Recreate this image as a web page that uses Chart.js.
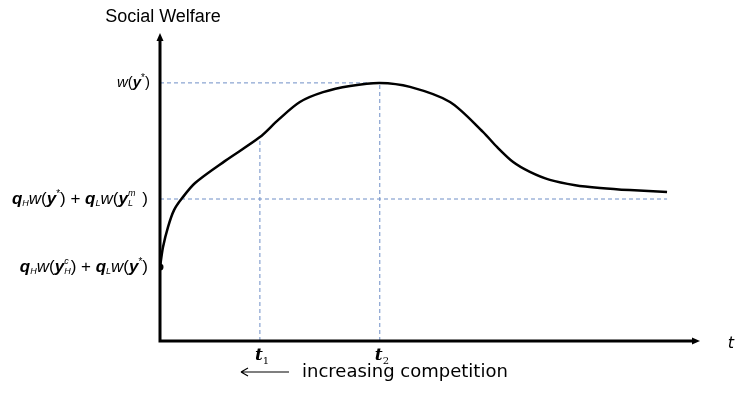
<!DOCTYPE html>
<html>
<head>
<meta charset="utf-8">
<script src="https://cdn.jsdelivr.net/npm/chart.js@4/dist/chart.umd.min.js"></script>
<style>
  html, body { margin: 0; padding: 0; background: #fff; }
  #wrap { width: 735px; height: 411px; position: relative; }
</style>
</head>
<body>
<div id="wrap"><canvas id="c"></canvas></div>
<script>
// ---- data (axis units: x 0..10, y 0..10) ----
const curveX = [0, 0.056, 0.148, 0.26, 0.41, 0.65, 1.20, 1.85, 2.19, 2.59, 3.02, 3.52, 4.07, 4.63, 5.37, 5.98, 6.24, 6.54, 6.85, 7.22, 7.69, 8.15, 8.70, 9.39];
const curveY = [2.40, 3.05, 3.70, 4.25, 4.64, 5.13, 5.84, 6.62, 7.18, 7.76, 8.08, 8.28, 8.38, 8.25, 7.76, 6.79, 6.30, 5.81, 5.49, 5.23, 5.06, 4.97, 4.90, 4.84];
const tPositions = [1.85, 4.07];        // t1, t2
const tSubscripts = ['1', '2'];
const tHeights = [6.62, 8.38];          // curve value at t1, t2
const levelValues = [2.40, 4.61, 8.38]; // y-levels of labelled welfare values
const levelLineEnds = [null, 9.39, 4.07]; // x where the dashed level lines end
const xMax = 10, yMax = 10;

const dashColor = '#6f8ec6';

function pts(xs, ys) { return xs.map((x, i) => ({ x: x, y: ys[i] })); }

const dashed = (data) => ({
  data: data, showLine: true, borderColor: dashColor, borderWidth: 1,
  borderDash: [4, 3], pointRadius: 0, fill: false, order: 2
});

const datasets = [
  dashed([{ x: 0, y: levelValues[2] }, { x: levelLineEnds[2], y: levelValues[2] }]),
  dashed([{ x: 0, y: levelValues[1] }, { x: levelLineEnds[1], y: levelValues[1] }]),
  dashed([{ x: tPositions[0], y: 0 }, { x: tPositions[0], y: tHeights[0] }]),
  dashed([{ x: tPositions[1], y: 0 }, { x: tPositions[1], y: tHeights[1] }]),
  {
    data: pts(curveX, curveY), showLine: true, borderColor: '#000', borderWidth: 2.5,
    tension: 0.3, fill: false, order: 1,
    pointRadius: curveX.map((_, i) => i === 0 ? 3.5 : 0),
    pointBackgroundColor: '#000', pointBorderColor: '#000', pointBorderWidth: 0
  }
];

// rich text helper: segments {t, font, dy, stack}; stack = draw without advancing
function richWidth(ctx, segs) {
  let w = 0;
  segs.forEach(s => { ctx.font = s.font; if (!s.stack) w += ctx.measureText(s.t).width; });
  return w;
}
function drawRich(ctx, segs, xRight, y) {
  let x = xRight - richWidth(ctx, segs);
  ctx.textAlign = 'left';
  ctx.textBaseline = 'middle';
  segs.forEach(s => {
    ctx.font = s.font;
    ctx.fillText(s.t, x, y + (s.dy || 0));
    if (!s.stack) x += ctx.measureText(s.t).width;
  });
}
const FF = '"Liberation Sans", Arial, sans-serif';
const BI = 'italic bold 17px ' + FF;
const I = 'italic 17px ' + FF;
const N = '17px ' + FF;
const SUB = 'italic 9px ' + FF;
const SUP = '10px ' + FF;

const levelLabels = [
  [ {t:'q',font:BI},{t:'H',font:SUB,dy:4},{t:'w',font:I},{t:'(',font:N},{t:'y',font:BI},
    {t:'c',font:SUB,dy:-6,stack:true},{t:'H',font:SUB,dy:4},{t:') + ',font:N},{t:'q',font:BI},{t:'L',font:SUB,dy:4},
    {t:'w',font:I},{t:'(',font:N},{t:'y',font:BI},{t:'*',font:SUP,dy:-5},{t:')',font:N} ],
  [ {t:'q',font:BI},{t:'H',font:SUB,dy:4},{t:'w',font:I},{t:'(',font:N},{t:'y',font:BI},
    {t:'*',font:SUP,dy:-5},{t:') + ',font:N},{t:'q',font:BI},{t:'L',font:SUB,dy:4},
    {t:'w',font:I},{t:'(',font:N},{t:'y',font:BI},{t:'m',font:SUB,dy:-6,stack:true},{t:'L',font:SUB,dy:4},{t:'  )',font:N} ],
  [ {t:'w',font:'italic 15px ' + FF},{t:'(',font:'15px ' + FF},{t:'y',font:'italic bold 15px ' + FF},
    {t:'*',font:SUP,dy:-5},{t:')',font:'15px ' + FF} ]
];
const labelRight = [-12, -12, -10];

const decor = {
  id: 'decor',
  afterDatasetsDraw(chart) {
    const ctx = chart.ctx;
    const xs = chart.scales.x, ys = chart.scales.y;
    const x0 = xs.getPixelForValue(0), y0 = ys.getPixelForValue(0);
    const xEnd = xs.getPixelForValue(xMax), yTop = ys.getPixelForValue(yMax);
    ctx.save();
    ctx.strokeStyle = '#000'; ctx.fillStyle = '#000';
    ctx.lineWidth = 3;
    ctx.beginPath();
    ctx.moveTo(x0, y0 + 1.5); ctx.lineTo(x0, yTop + 6);
    ctx.moveTo(x0 - 1.5, y0); ctx.lineTo(xEnd - 6, y0);
    ctx.stroke();
    // arrowheads
    ctx.beginPath();
    ctx.moveTo(x0, yTop); ctx.lineTo(x0 - 3.5, yTop + 8); ctx.lineTo(x0 + 3.5, yTop + 8); ctx.closePath(); ctx.fill();
    ctx.beginPath();
    ctx.moveTo(xEnd, y0); ctx.lineTo(xEnd - 8, y0 - 3.5); ctx.lineTo(xEnd - 8, y0 + 3.5); ctx.closePath(); ctx.fill();

    // y-level labels
    levelLabels.forEach((segs, i) => {
      drawRich(ctx, segs, x0 + labelRight[i], ys.getPixelForValue(levelValues[i]));
    });

    // t ticks
    tPositions.forEach((t, i) => {
      const px = xs.getPixelForValue(t);
      ctx.textBaseline = 'middle'; ctx.textAlign = 'left';
      ctx.font = 'italic bold 17px "DejaVu Serif", serif';
      const w = ctx.measureText('t').width;
      ctx.fillText('t', px - w / 2 - 1, y0 + 15);
      ctx.font = '10px "DejaVu Serif", serif';
      ctx.fillText(tSubscripts[i], px - w / 2 - 1 + w, y0 + 20);
    });
    // axis name t
    ctx.font = 'italic 16px "DejaVu Sans", sans-serif';
    ctx.textAlign = 'center';
    ctx.fillText('t', xEnd + 31, y0 + 3);

    // title
    ctx.font = '18px ' + FF;
    ctx.textAlign = 'center';
    ctx.textBaseline = 'middle';
    ctx.fillText('Social Welfare', x0 + 3, 17);

    // bottom annotation
    const by = y0 + 31;
    ctx.lineWidth = 1.2;
    ctx.beginPath();
    ctx.moveTo(x0 + 81, by); ctx.lineTo(x0 + 129, by);
    ctx.moveTo(x0 + 81, by); ctx.lineTo(x0 + 88, by - 4);
    ctx.moveTo(x0 + 81, by); ctx.lineTo(x0 + 88, by + 4);
    ctx.stroke();
    ctx.font = '18px "DejaVu Sans", sans-serif';
    ctx.textAlign = 'left';
    ctx.fillText('increasing competition', x0 + 142, by);
    ctx.restore();
  }
};

new Chart(document.getElementById('c'), {
  type: 'scatter',
  data: { datasets: datasets },
  options: {
    responsive: true, maintainAspectRatio: false, animation: false,
    layout: { padding: { left: 160, top: 33, right: 35, bottom: 70 } },
    plugins: { legend: { display: false }, tooltip: { enabled: false } },
    scales: {
      x: { type: 'linear', min: 0, max: xMax, display: false },
      y: { type: 'linear', min: 0, max: yMax, display: false }
    }
  },
  plugins: [decor]
});
</script>
</body>
</html>
